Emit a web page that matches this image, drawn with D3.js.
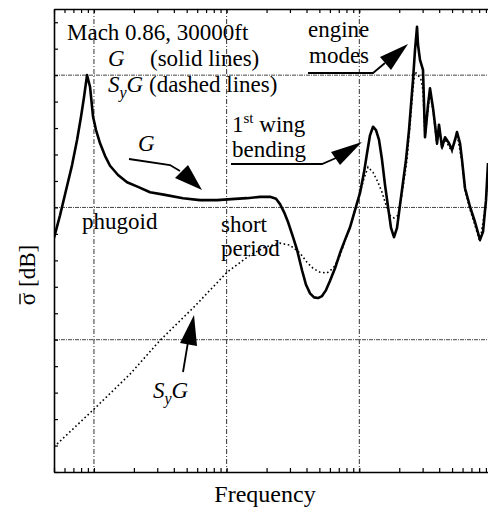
<!DOCTYPE html>
<html>
<head>
<meta charset="utf-8">
<script src="https://cdn.jsdelivr.net/npm/d3@7"></script>
<style>
body { margin: 0; background: #fff; }
svg { display: block; }
text { font-family: "Liberation Serif", "Times New Roman", serif; fill: #000; }
</style>
</head>
<body>
<svg id="graph" width="488" height="512"></svg>
<script>
// G (solid) : frequency [Hz] / sigma [dB]
const freqG = [0.05, 0.0555, 0.0616, 0.0684, 0.0746, 0.0799, 0.0842, 0.0887, 0.0935, 0.0985,
  0.1037, 0.1112, 0.1212, 0.1322, 0.1519, 0.1776, 0.2149, 0.2647, 0.3434, 0.4693,
  0.6301, 0.8466, 1.157, 1.424, 1.785, 2.124, 2.357, 2.526, 2.708, 2.902,
  3.166, 3.393, 3.700, 3.966, 4.252, 4.557, 4.884, 5.236, 5.613, 6.016,
  6.560, 7.154, 7.802, 8.511, 9.281, 10.12, 10.85, 11.43, 12.04, 12.69,
  13.36, 14.08, 14.83, 15.62, 16.46, 17.33, 18.26, 19.24, 20.27, 21.35,
  22.48, 23.69, 24.53, 25.39, 26.29, 27.22, 27.69, 28.67, 30.20, 31.27,
  32.94, 34.11, 35.94, 37.21, 38.52, 39.86, 42.01, 44.25, 47.42, 49.95,
  52.61, 54.47, 57.41, 59.42, 62.60, 68.28, 74.44, 81.21, 85.56, 90.13, 93.30];
const sigmaG = [-24.6, -21.2, -17.4, -13.6, -9.8, -6.3, -3.3, 0.0, -1.8, -6.3,
  -8.3, -10.3, -12.2, -13.7, -15.1, -16.2, -16.9, -17.7, -18.1, -18.6,
  -18.9, -18.9, -18.7, -18.6, -18.4, -18.4, -18.7, -19.5, -20.7, -22.2,
  -24.5, -26.4, -29.5, -31.7, -33.0, -33.6, -33.7, -33.4, -32.5, -31.1,
  -29.2, -26.9, -24.9, -23.0, -20.4, -17.8, -14.7, -11.8, -9.1, -7.8,
  -8.3, -9.8, -12.8, -16.6, -19.9, -23.1, -24.5, -23.1, -19.6, -16.2,
  -12.8, -8.3, -4.5, -0.7, 3.8, 7.3, 4.6, 2.3, 0.8, -9.4,
  -4.5, -2.0, -5.0, -7.5, -10.3, -7.5, -10.9, -9.4, -10.3, -11.3,
  -9.8, -8.6, -10.3, -12.8, -17.1, -19.9, -22.2, -24.9, -23.7, -18.9, -13.3];

// SyG (dashed)
const freqSyG = [0.05, 0.1, 0.1871, 0.3148, 0.5779, 1.007, 1.501, 1.947, 2.526, 3.005,
  3.574, 4.036, 4.479, 5.057, 5.711, 6.337, 6.910, 7.406, 7.939, 8.511,
  9.281, 10.12, 10.85, 11.63, 12.69, 13.83, 14.83, 15.89, 17.03, 18.26,
  19.57, 20.62, 21.72, 22.88, 24.11, 25.39, 26.29, 27.69, 29.17, 30.20,
  31.27, 34.11, 35.94, 38.52, 39.86, 42.01, 44.25, 49.95, 54.47, 59.42,
  62.60, 68.28, 81.21, 90.13, 93.30];
const sigmaSyG = [-56.2, -50.5, -45.2, -40.1, -34.9, -29.8, -27.2, -26.0, -25.4, -25.7,
  -26.9, -28.3, -29.2, -29.8, -29.9, -29.2, -28.0, -26.4, -24.6, -23.1,
  -20.4, -17.8, -15.6, -13.9, -14.7, -16.2, -17.7, -19.6, -21.2, -21.6,
  -21.2, -18.9, -15.9, -12.8, -7.5, -2.0, 0.5, 0.0, -0.7, -2.3,
  -9.4, -2.6, -5.3, -10.6, -7.8, -11.2, -9.7, -11.6, -8.9, -13.1,
  -17.4, -20.3, -25.2, -19.2, -13.6];

const gridFreq = [0.1, 1, 10];
const gridSigma = [-40, -20, 0];
const sigmaTicks = d3.range(-60, 11, 4);

const plot = { left: 54, top: 9, right: 492, bottom: 472 };

const svg = d3.select('#graph');

const xScale = d3.scaleLog()
    .domain([0.05, 100])
    .range([plot.left, plot.right]);

const yScale = d3.scaleLinear()
    .domain([-60, 10])
    .range([plot.bottom, plot.top]);

// minor log ticks 2..9 of every decade
const freqTicks = [];
[0.01, 0.1, 1, 10].forEach((dec) => {
  for (let k = 1; k < 10; k++) {
    const v = +(k * dec).toPrecision(3);
    if (v >= 0.05 && v <= 100) freqTicks.push(v);
  }
});

svg.append('clipPath').attr('id', 'clip')
  .append('rect')
    .attr('x', plot.left).attr('y', plot.top)
    .attr('width', plot.right - plot.left)
    .attr('height', plot.bottom - plot.top);

// grid
svg.append('g').selectAll('line')
  .data(gridFreq)
  .join('line')
    .attr('x1', (d) => xScale(d)).attr('x2', (d) => xScale(d))
    .attr('y1', plot.top).attr('y2', plot.bottom)
    .attr('stroke', '#333')
    .attr('stroke-width', 1)
    .attr('stroke-dasharray', '5,2,1,2');

svg.append('g').selectAll('line')
  .data(gridSigma)
  .join('line')
    .attr('x1', plot.left).attr('x2', plot.right)
    .attr('y1', (d) => yScale(d)).attr('y2', (d) => yScale(d))
    .attr('stroke', '#444')
    .attr('stroke-width', 1)
    .attr('stroke-dasharray', '4,1,1,1');

// axes, ticks pointing inwards
svg.append('g')
    .attr('transform', `translate(0, ${plot.bottom})`)
    .call(d3.axisBottom(xScale).tickValues(freqTicks).tickSize(-4).tickSizeOuter(0).tickFormat(''));

svg.append('g')
    .attr('transform', `translate(0, ${plot.top})`)
    .call(d3.axisTop(xScale).tickValues(freqTicks).tickSize(-4).tickSizeOuter(0).tickFormat(''));

svg.append('g')
    .attr('transform', `translate(${plot.left}, 0)`)
    .call(d3.axisLeft(yScale).tickValues(sigmaTicks).tickSize(-4).tickSizeOuter(0).tickFormat(''));

svg.selectAll('.domain').attr('stroke', '#000').attr('stroke-width', 1.6);
svg.selectAll('.tick line').attr('stroke', '#000').attr('stroke-width', 1.2);

// curves
const line = d3.line()
    .x((d) => xScale(d[0]))
    .y((d) => yScale(d[1]));

const curves = svg.append('g').attr('clip-path', 'url(#clip)');

curves.append('path')
    .attr('d', line(d3.zip(freqSyG, sigmaSyG)))
    .attr('fill', 'none')
    .attr('stroke', '#000')
    .attr('stroke-width', 1.6)
    .attr('stroke-dasharray', '1.6,2.6');

curves.append('path')
    .attr('d', line(d3.zip(freqG, sigmaG)))
    .attr('fill', 'none')
    .attr('stroke', '#000')
    .attr('stroke-width', 2.6)
    .attr('stroke-linejoin', 'round');

// annotations
const fs = 23;

function label(x, y, str) {
  return svg.append('text')
      .attr('x', x).attr('y', y)
      .attr('font-size', fs)
      .text(str);
}

function syg(x, y) {
  const t = svg.append('text').attr('x', x).attr('y', y).attr('font-size', fs);
  t.append('tspan').attr('font-style', 'italic').text('S');
  t.append('tspan').attr('font-style', 'italic').attr('font-size', 16).attr('dy', 6).text('y');
  t.append('tspan').attr('font-style', 'italic').attr('dy', -6).text('G');
  return t;
}

function arrow(tail, tip, b1, b2) {
  svg.append('path')
      .attr('d', d3.line()(tail))
      .attr('fill', 'none')
      .attr('stroke', '#000')
      .attr('stroke-width', 1.8);
  svg.append('path')
      .attr('d', d3.line()([tip, b1, b2]) + 'Z')
      .attr('fill', '#000');
}

label(67, 40, 'Mach 0.86, 30000ft');
label(108, 66, 'G').attr('font-style', 'italic');
label(150, 66, '(solid lines)');
syg(108, 92).append('tspan').attr('font-style', 'normal').text(' (dashed lines)');

label(138, 151, 'G').attr('font-style', 'italic');
arrow([[129, 159], [170, 165], [180, 171]], [202, 190], [175, 178], [188, 165]);

label(82, 229, 'phugoid');
label(221, 232, 'short');
label(221, 256, 'period');

const wing = label(232, 132, '1');
wing.append('tspan').attr('font-size', 15).attr('dy', -9).text('st');
wing.append('tspan').attr('dy', 9).text(' wing');
label(232, 157, 'bending');
arrow([[231, 164], [322, 164], [336, 158]], [362, 142], [331, 152], [340, 165]);

label(308, 37, 'engine');
label(309, 63, 'modes');
arrow([[308, 73], [373, 73], [385, 63]], [408, 44], [380, 57], [391, 70]);

syg(153, 398);
arrow([[183, 372], [188, 342]], [194, 315], [180, 343], [197, 346]);

// axis titles
svg.append('text')
    .attr('x', 265).attr('y', 502)
    .attr('text-anchor', 'middle')
    .attr('font-size', 24)
    .text('Frequency');

const yTitle = svg.append('g')
    .attr('transform', 'translate(35, 275) rotate(-90)');

const yText = yTitle.append('text')
    .attr('x', 0).attr('y', 0)
    .attr('text-anchor', 'middle')
    .attr('font-size', 23)
    .text('\u03C3 [dB]');

// bar over the sigma
const bb = yText.node().getBBox();
const sigW = yText.node().getSubStringLength(0, 1);
yTitle.append('line')
    .attr('x1', bb.x + 1).attr('x2', bb.x + sigW - 1)
    .attr('y1', -15).attr('y2', -15)
    .attr('stroke', '#000')
    .attr('stroke-width', 1.4);
</script>
</body>
</html>
